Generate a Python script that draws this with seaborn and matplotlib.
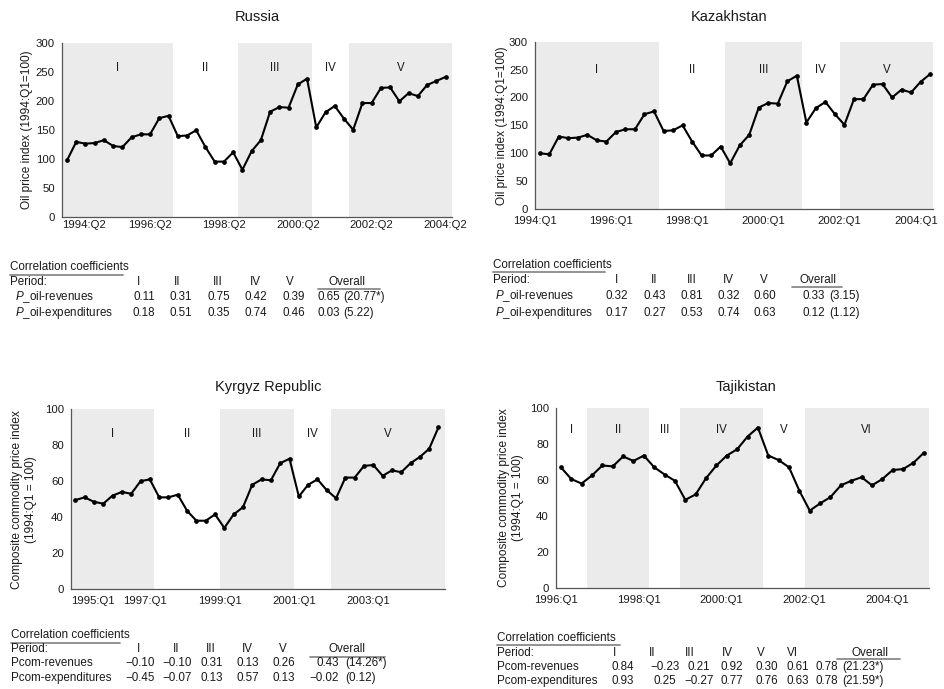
import numpy as np
import pandas as pd
import matplotlib
matplotlib.use("Agg")
import matplotlib.pyplot as plt
from matplotlib.lines import Line2D
import seaborn as sns

# ---------------------------------------------------------------- data
# Oil price index (1994:Q1 = 100), quarterly
russia_oil = [98, 130, 127, 128, 133, 123, 121, 138, 143, 143, 171, 175, 140, 141,
              150, 121, 96, 96, 112, 82, 114, 133, 182, 190, 189, 229, 239, 155,
              181, 192, 170, 151, 197, 197, 223, 224, 200, 214, 209, 228, 235, 242]
kazakhstan_oil = [100, 98, 130, 127, 128, 133, 123, 121, 138, 143, 143, 170, 175, 140,
                  141, 150, 121, 96, 96, 112, 82, 114, 133, 182, 190, 189, 229, 239,
                  155, 181, 192, 170, 151, 197, 197, 223, 224, 200, 214, 209, 228, 242]
# Composite commodity price index (1994:Q1 = 100), quarterly
kyrgyz_com = [49.5, 51, 48.5, 47.5, 52, 54, 53, 60, 61, 51, 51, 52.5, 43.5, 38, 38,
              41.5, 34, 41.5, 45.5, 58, 61, 60.5, 70, 72.5, 51.5, 58, 61, 55, 50.5,
              62, 62, 68.5, 69, 63, 66, 65, 70, 73.5, 78, 90]
tajik_com = [67, 60.5, 58, 62.5, 68, 67.5, 73, 70.5, 73.5, 67, 63, 59.5, 49, 52, 61,
             68, 73.5, 77, 84, 89, 73.5, 71, 67, 54, 43, 47, 50.5, 57, 59.5, 61.5,
             57, 60.5, 65.5, 66, 69.5, 75]

# x-axis labels
russia_xlabels = ["1994:Q2", "1996:Q2", "1998:Q2", "2000:Q2", "2002:Q2", "2004:Q2"]
kazakhstan_xlabels = ["1994:Q1", "1996:Q1", "1998:Q1", "2000:Q1", "2002:Q1", "2004:Q1"]
kyrgyz_xlabels = ["1995:Q1", "1997:Q1", "1999:Q1", "2001:Q1", "2003:Q1"]
tajik_xlabels = ["1996:Q1", "1998:Q1", "2000:Q1", "2002:Q1", "2004:Q1"]

# sub-periods: (first quarter index, last quarter index)
russia_periods = [(0, 11), (12, 18), (19, 26), (27, 30), (31, 41)]
kazakhstan_periods = [(0, 12), (13, 19), (20, 27), (28, 31), (32, 41)]
kyrgyz_periods = [(0, 8), (9, 15), (16, 23), (24, 27), (28, 39)]
tajik_periods = [(0, 2), (3, 8), (9, 11), (12, 19), (20, 23), (24, 35)]
numerals5 = ["I", "II", "III", "IV", "V"]
numerals6 = ["I", "II", "III", "IV", "V", "VI"]

# correlation coefficients per sub-period and overall (t-statistic)
russia_rev = [0.11, 0.31, 0.75, 0.42, 0.39]
russia_exp = [0.18, 0.51, 0.35, 0.74, 0.46]
russia_overall = [(0.65, "(20.77*)"), (0.03, "(5.22)")]
kazakhstan_rev = [0.32, 0.43, 0.81, 0.32, 0.60]
kazakhstan_exp = [0.17, 0.27, 0.53, 0.74, 0.63]
kazakhstan_overall = [(0.33, "(3.15)"), (0.12, "(1.12)")]
kyrgyz_rev = [-0.10, -0.10, 0.31, 0.13, 0.26]
kyrgyz_exp = [-0.45, -0.07, 0.13, 0.57, 0.13]
kyrgyz_overall = [(0.43, "(14.26*)"), (-0.02, "(0.12)")]
tajik_rev = [0.84, -0.23, 0.21, 0.92, 0.30, 0.61]
tajik_exp = [0.93, 0.25, -0.27, 0.77, 0.76, 0.63]
tajik_overall = [(0.78, "(21.23*)"), (0.78, "(21.59*)")]

# ---------------------------------------------------------------- style
sns.set_theme(style="white")
plt.rcParams["font.family"] = ["Liberation Sans", "DejaVu Sans"]
plt.rcParams["mathtext.fontset"] = "custom"
plt.rcParams["mathtext.it"] = "Liberation Sans:italic"
plt.rcParams["mathtext.rm"] = "Liberation Sans"

SHADE = "#ebebeb"
SPINE = "#555555"
TXT = "#1a1a1a"
TICK_FS = 8.2
TABLE_FS = 8.4

W, H = 944, 689
fig = plt.figure(figsize=(W / 100, H / 100), dpi=100)
fig.patch.set_facecolor("white")


def fx(px):
    return px / W


def fy(py):
    return 1 - py / H


def axes_px(left, top, right, bottom):
    return fig.add_axes([fx(left), fy(bottom), (right - left) / W, (bottom - top) / H])


def fmt(v):
    return f"{v:.2f}".replace("-", "\u2212")


def draw_panel(ax, values, periods, numerals, shade_even, xlim, ymax, ystep,
               numeral_y, label_pos, labels, first_left, major_len=3):
    n = len(values)
    df = pd.DataFrame({"quarter": np.arange(n), "index": values})
    last = len(periods) - 1
    for i, ((a, b), name) in enumerate(zip(periods, numerals)):
        lo = max(a - 0.5, xlim[0])
        hi = xlim[1] if i == last else b + 0.5
        if (i % 2 == 0) == shade_even:
            ax.axvspan(lo, hi, ymin=0, ymax=1, color=SHADE, lw=0, zorder=0)
        ax.text((lo + hi) / 2, numeral_y, name, ha="center", va="center",
                fontsize=8.3, color=TXT)
    sns.lineplot(data=df, x="quarter", y="index", ax=ax, color="black", lw=1.5,
                 marker="o", markersize=3.4, markeredgewidth=0, zorder=3)
    ax.set_xlim(*xlim)
    ax.set_ylim(0, ymax)
    ax.set_yticks(np.arange(0, ymax + 1, ystep))
    ax.set_xticks(label_pos, labels)
    ax.set_xticks(np.arange(-0.5, xlim[1] + 0.01, 4), minor=True)
    ax.set_xlabel("")
    ax.set_ylabel("")
    for s in ["top", "right"]:
        ax.spines[s].set_visible(False)
    for s in ["left", "bottom"]:
        ax.spines[s].set_color(SPINE)
        ax.spines[s].set_linewidth(0.9)
    ax.tick_params(axis="both", which="both", direction="out", color=SPINE,
                   width=0.8, labelsize=TICK_FS, labelcolor=TXT, pad=2)
    ax.tick_params(axis="x", which="minor", length=3)
    ax.tick_params(axis="x", which="major", length=major_len)
    ax.tick_params(axis="y", which="major", length=3)
    ax.set_facecolor("white")
    if first_left:
        ax.get_xticklabels()[0].set_horizontalalignment("left")


def corr_table(left, label_x, ys, title_line, head_x, col_x, overall_x, overall_line,
               row_names, row_values, overall, num_right, paren_left, numerals):
    t_y, p_y, r1_y, r2_y = ys
    fig.text(fx(left), fy(t_y), "Correlation coefficients", ha="left", va="center",
             fontsize=TABLE_FS, color=TXT)
    fig.add_artist(Line2D([fx(title_line[0]), fx(title_line[1])],
                          [fy(title_line[2]), fy(title_line[2])],
                          color="#8a8a8a", lw=1.3))
    fig.text(fx(left), fy(p_y), "Period:", ha="left", va="center",
             fontsize=TABLE_FS, color=TXT)
    for x, name in zip(head_x, numerals):
        fig.text(fx(x), fy(p_y), name, ha="center", va="center",
                 fontsize=TABLE_FS, color=TXT)
    fig.text(fx(overall_x), fy(p_y), "Overall", ha="center", va="center",
             fontsize=TABLE_FS, color=TXT)
    fig.add_artist(Line2D([fx(overall_line[0]), fx(overall_line[1])],
                          [fy(overall_line[2]), fy(overall_line[2])],
                          color="#8a8a8a", lw=1.3))
    for y, name, vals, (ov, tstat) in zip([r1_y, r2_y], row_names, row_values, overall):
        fig.text(fx(label_x), fy(y), name, ha="left", va="center",
                 fontsize=TABLE_FS, color=TXT)
        for x, v in zip(col_x, vals):
            fig.text(fx(x), fy(y), fmt(v), ha="center", va="center",
                     fontsize=TABLE_FS, color=TXT)
        fig.text(fx(num_right), fy(y), fmt(ov), ha="right", va="center",
                 fontsize=TABLE_FS, color=TXT)
        fig.text(fx(paren_left), fy(y), tstat, ha="left", va="center",
                 fontsize=TABLE_FS, color=TXT)


# ---------------------------------------------------------------- Russia
ax1 = axes_px(61.7, 43.3, 452, 217.3)
n1 = len(russia_oil)
pos1 = [-0.57] + [8 * k + 1 for k in range(1, 5)] + [n1 - 1]
draw_panel(ax1, russia_oil, russia_periods, numerals5, True, (-0.57, 41.7), 300, 50,
           258, pos1, russia_xlabels, first_left=True, major_len=0)
fig.text(fx(257), fy(17), "Russia", ha="center", va="center", fontsize=10.5, color=TXT)
fig.text(fx(27), fy(130), "Oil price index (1994:Q1=100)", rotation=90,
         ha="center", va="center", fontsize=8.6, color=TXT)
corr_table(10, 15, (267, 282, 297, 313), (10, 123, 275),
           [139, 177, 218, 255, 290], [144, 181, 219, 256, 294], 347, (318, 380, 289),
           [r"$\mathit{P}$_oil-revenues", r"$\mathit{P}$_oil-expenditures"],
           [russia_rev, russia_exp], russia_overall, 340, 343, numerals5)

# ---------------------------------------------------------------- Kazakhstan
ax2 = axes_px(535, 41.7, 933, 209)
pos2 = [8 * k - 0.5 for k in range(6)]
draw_panel(ax2, kazakhstan_oil, kazakhstan_periods, numerals5, True, (-0.5, 41.3), 300, 50,
           250, pos2, kazakhstan_xlabels, first_left=False)
fig.text(fx(729), fy(17), "Kazakhstan", ha="center", va="center", fontsize=10.5, color=TXT)
fig.text(fx(502), fy(126), "Oil price index (1994:Q1=100)", rotation=90,
         ha="center", va="center", fontsize=8.6, color=TXT)
corr_table(493, 495, (265, 280, 296, 313), (493, 605, 272),
           [616, 654, 692, 728, 764], [617, 655, 692, 729, 765], 818, (792, 842, 287),
           [r"$\mathit{P}$_oil-revenues", r"$\mathit{P}$_oil-expenditures"],
           [kazakhstan_rev, kazakhstan_exp], kazakhstan_overall, 825, 829, numerals5)

# ---------------------------------------------------------------- Kyrgyz Republic
ax3 = axes_px(70.7, 409.3, 445, 589)
pos3 = [8 * k - 0.5 for k in range(5)]
draw_panel(ax3, kyrgyz_com, kyrgyz_periods, numerals5, True, (-0.5, 39.7), 100, 20,
           86.5, pos3, kyrgyz_xlabels, first_left=True)
fig.text(fx(268), fy(387), "Kyrgyz Republic", ha="center", va="center", fontsize=10.5, color=TXT)
fig.text(fx(24), fy(500), "Composite commodity price index\n(1994:Q1 = 100)", rotation=90,
         ha="center", va="center", fontsize=8.6, color=TXT, linespacing=1.3)
corr_table(11, 11, (635, 649, 663, 678), (11, 120, 643),
           [139, 176, 211, 247, 283], [140, 177, 212, 248, 284], 347, (310, 385, 657),
           ["Pcom-revenues", "Pcom-expenditures"],
           [kyrgyz_rev, kyrgyz_exp], kyrgyz_overall, 339, 345, numerals5)

# ---------------------------------------------------------------- Tajikistan
ax4 = axes_px(555.7, 407.7, 929, 588.3)
pos4 = [8 * k - 0.5 for k in range(5)]
draw_panel(ax4, tajik_com, tajik_periods, numerals6, False, (-0.5, 35.5), 100, 20,
           87.5, pos4, tajik_xlabels, first_left=False)
fig.text(fx(746), fy(387), "Tajikistan", ha="center", va="center", fontsize=10.5, color=TXT)
fig.text(fx(511), fy(498), "Composite commodity price index\n(1994:Q1 = 100)", rotation=90,
         ha="center", va="center", fontsize=8.6, color=TXT, linespacing=1.3)
corr_table(497, 497, (638, 653, 667, 681), (497, 620, 645),
           [614, 652, 690, 727, 761, 792], [623, 665, 699, 732, 767, 798], 870, (837, 900, 659),
           ["Pcom-revenues", "Pcom-expenditures"],
           [tajik_rev, tajik_exp], tajik_overall, 838, 842, numerals6)

fig.savefig("out.png", dpi=100, facecolor="white")
